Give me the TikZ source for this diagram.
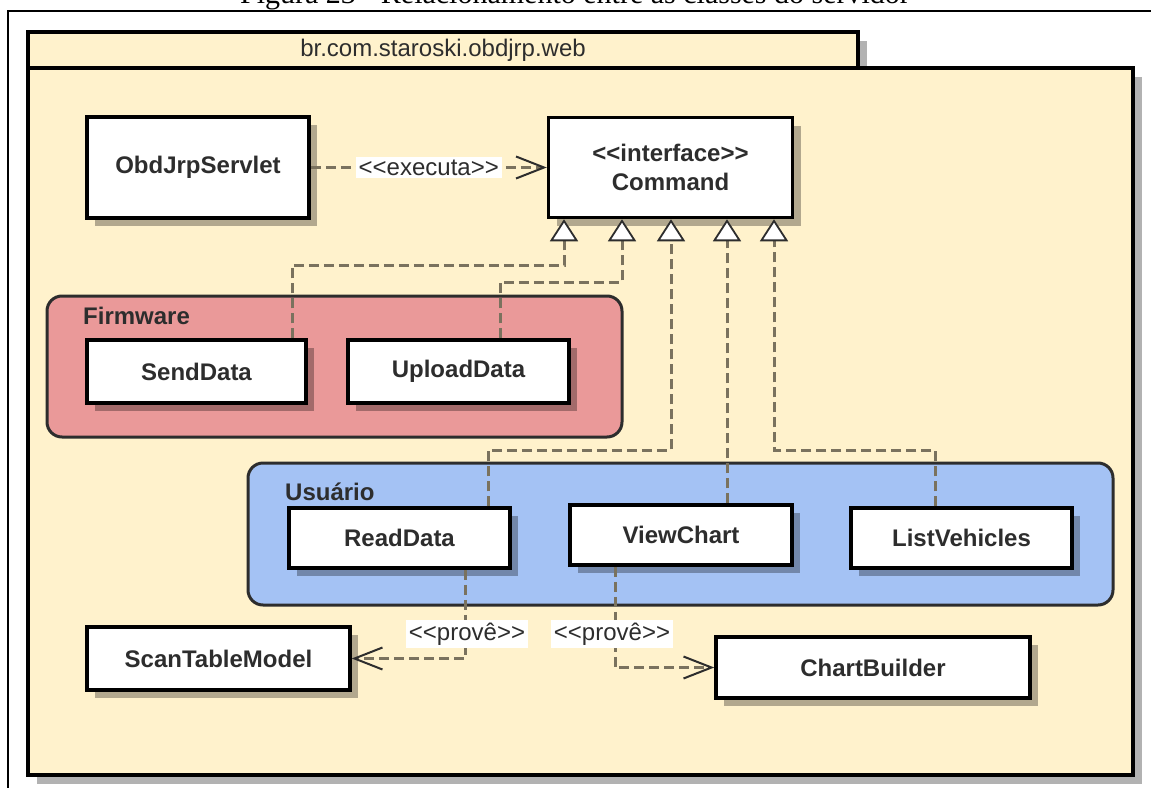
\documentclass[tikz,border=0pt]{standalone}
\usepackage{fontspec}
\setmainfont{Liberation Serif}
\newfontfamily\umlfont{Liberation Sans}
\usetikzlibrary{arrows.meta,shadows}

\definecolor{pkgfill}{RGB}{255,242,204}
\definecolor{fwfill}{RGB}{234,153,153}
\definecolor{usrfill}{RGB}{164,194,244}
\definecolor{textdark}{RGB}{45,45,45}
\definecolor{linkgray}{RGB}{122,114,94}
\definecolor{edgedark}{RGB}{45,45,45}

\begin{document}
\begin{tikzpicture}[x=1pt,y=-1pt,
  boxshadow/.style={drop shadow={shadow xshift=8pt, shadow yshift=-8pt, opacity=0.3, fill=black}},
  classbox/.style={draw=black, line width=3.5pt, fill=white, inner sep=0pt,
    font=\umlfont\bfseries\fontsize{24}{29}\selectfont, text=textdark, align=center, boxshadow},
  pkgtab/.style={draw=black, line width=3.5pt, fill=pkgfill, inner sep=0pt,
    font=\umlfont\fontsize{24}{28}\selectfont, text=textdark,
    drop shadow={shadow xshift=9pt, shadow yshift=-9pt, opacity=0.3, fill=black}},
  group/.style={draw=edgedark, line width=3pt, rounded corners=15pt, inner sep=0pt},
  grouplabel/.style={anchor=west, inner sep=0pt, font=\umlfont\bfseries\fontsize{24}{28}\selectfont, text=textdark},
  lbl/.style={fill=white, inner sep=3pt, font=\umlfont\fontsize{24}{28}\selectfont, text=textdark},
  impl/.style={draw=linkgray, line width=3pt, dash pattern=on 10pt off 5pt,
    -{Triangle[length=22pt, width=28pt, fill=white, color=edgedark, line width=1.8pt]}},
  dep/.style={draw=linkgray, line width=3pt, dash pattern=on 10pt off 5pt,
    -{Straight Barb[length=28pt, width=22pt, color=edgedark, line width=2pt]}}
]
\useasboundingbox (0,0) rectangle (1151,787);

% caption of the figure, running off the top edge
\node[anchor=base, inner sep=0pt, font=\fontsize{30}{34}\selectfont] (caption) at (575,4)
  {Figura 23 - Relacionamento entre as classes do servidor};

% frame of the page
\draw[line width=1.5pt] (8,800) -- (8,11) -- (1160,11);

% package br.com.staroski.obdjrp.web
\node[pkgtab, minimum width=830pt, minimum height=36pt] (tab) at (443,50) {br.com.staroski.obdjrp.web};
\node[pkgtab, minimum width=1105pt, minimum height=707pt] (pkg) at (580.5,421.5) {};

% sub-packages
\node[group, fill=fwfill, minimum width=575pt, minimum height=141pt] (fw) at (334.5,366.5) {};
\node[grouplabel] (fwlabel) at (83,316) {Firmware};
\node[group, fill=usrfill, minimum width=865pt, minimum height=142pt] (usr) at (680.5,534) {};
\node[grouplabel] (usrlabel) at (285,492) {Usuário};

% classes
\node[classbox, minimum width=222pt, minimum height=101pt] (obd) at (198,167.5) {ObdJrpServlet};
\node[classbox, minimum width=244pt, minimum height=100pt] (cmd) at (670.5,167.5) {<\kern0pt<interface>\kern0pt>\\Command};
\node[classbox, minimum width=219pt, minimum height=63pt] (send) at (196.5,371.5) {SendData};
\node[classbox, minimum width=221pt, minimum height=63pt] (upload) at (458.5,371.5) {UploadData};
\node[classbox, minimum width=221pt, minimum height=60pt] (read) at (399.5,538) {ReadData};
\node[classbox, minimum width=222pt, minimum height=60pt] (view) at (681,535) {ViewChart};
\node[classbox, minimum width=221pt, minimum height=60pt] (list) at (961.5,538) {ListVehicles};
\node[classbox, minimum width=263pt, minimum height=63pt] (scan) at (218.5,658.5) {ScanTableModel};
\node[classbox, minimum width=314pt, minimum height=61pt] (chart) at (873,667.5) {ChartBuilder};

% realizations of Command
\draw[impl] (send.north -| 292,0) -- (292,265) -- (564,265) -- (cmd.south -| 564,0);
\draw[impl] (upload.north -| 500,0) -- (500,282) -- (622,282) -- (cmd.south -| 622,0);
\draw[impl] (read.north -| 488,0) -- (488,450) -- (671,450) -- (cmd.south -| 671,0);
\draw[impl] (view.north -| 727,0) -- (cmd.south -| 727,0);
\draw[impl] (list.north -| 935,0) -- (935,450) -- (774,450) -- (cmd.south -| 774,0);

% dependencies
\draw[dep] (obd.east) -- node[lbl] (exec) {<\kern0pt<executa>\kern0pt>} (obd.east -| cmd.west);
\draw[dep] (read.south -| 465,0) |- (scan.east);
\node[lbl] (prov1) at (467,634) {<\kern0pt<provê>\kern0pt>};
\draw[dep] (view.south -| 615,0) |- (chart.west);
\node[lbl] (prov2) at (612,634) {<\kern0pt<provê>\kern0pt>};
\end{tikzpicture}
\end{document}
